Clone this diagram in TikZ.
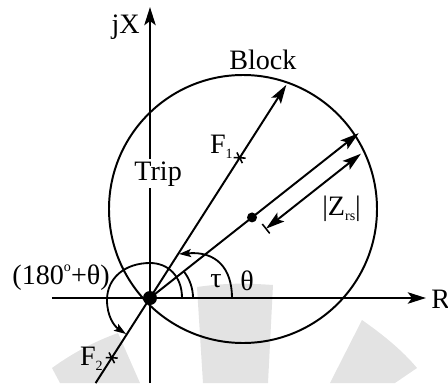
\documentclass[tikz,border=0pt]{standalone}
\usepackage{fontspec}
\setmainfont{Liberation Serif}
\usetikzlibrary{arrows.meta,calc}
\newcommand\lowidx[1]{\raisebox{-0.4ex}{\fontsize{10}{10}\selectfont #1}}
\newcommand\highidx[1]{\raisebox{0.95ex}{\fontsize{10}{10}\selectfont #1}}

\begin{document}
\begin{tikzpicture}[x=0.025cm,y=0.025cm,
    axis/.style={line width=2.1pt,-{Stealth[length=0.45cm,width=0.28cm,inset=0.1cm]}},
    ray/.style={line width=1.4pt},
    tip/.style={-{Stealth[length=0.47cm,width=0.28cm,inset=0.1cm]}},
    turn/.style={line width=1.3pt,-{Stealth[length=0.3cm,width=0.2cm,inset=0.06cm]}},
    lbl/.style={inner sep=0pt,font=\fontsize{20}{22}\selectfont},
    cross/.style={line width=1.1pt},
    wmark/.style={fill=black!11,draw=none}]
  \useasboundingbox (-150,-85) rectangle (298,298);

  % ---- filigrana -----------------------------------------------------------
  \fill[wmark] (47,11) .. controls (75,15) and (95,15) .. (123,13)
               -- (118,-85) -- (53,-85) -- cycle;
  \fill[wmark] (212,-22) .. controls (232,-36) and (252,-52) .. (267,-70)
               -- (245,-85) -- (180,-85) -- cycle;
  \fill[wmark] (-98,-70) .. controls (-76,-54) and (-54,-43) .. (-32,-35)
               -- (-10,-85) -- (-90,-85) -- cycle;

  % ---- punti ---------------------------------------------------------------
  \coordinate (O)    at (0,0);
  \coordinate (xl)   at (-98,0);
  \coordinate (xr)   at (276,0);
  \coordinate (yb)   at (0,-85);
  \coordinate (yt)   at (0,291);
  \coordinate (C)    at (93,89);
  \coordinate (F1)   at (57.4:166.4);
  \coordinate (F2)   at (237.4:71);
  \coordinate (L1a)  at (237.4:101);
  \coordinate (L1b)  at (57.4:253);
  \coordinate (L2b)  at (38.3:266);
  \coordinate (Zr)   at (38.3:130);
  \coordinate (Da)   at ($(38.3:134)+(-51.7:17.5)$);
  \coordinate (Db)   at ($(38.3:255)+(-51.7:17.5)$);

  % ---- assi e cerchio ------------------------------------------------------
  \draw[axis] (xl) -- (xr);
  \draw[axis] (yb) -- (yt);
  \draw[ray] (C) circle[radius=134];
  \node[lbl,anchor=base east] (jx) at (-10,265) {jX};
  \node[lbl,anchor=base west] (re) at (281,-10) {R};
  \node[lbl,anchor=base west] (blk) at (79,229) {Block};
  \node[lbl,anchor=base west,fill=white,inner sep=1.5pt] (trp) at (-18,118) {Trip};

  % ---- raggi ---------------------------------------------------------------
  \draw[ray,tip] (L1a) -- (L1b);
  \draw[ray,tip] (O) -- (L2b);
  \draw[ray,{Stealth[length=0.47cm,width=0.28cm,inset=0.1cm]}-{Stealth[length=0.47cm,width=0.28cm,inset=0.1cm]}] (Da) -- (Db);
  \draw[cross] ($(Da)+(-51.7:6)$) -- ($(Da)+(128.3:6)$);
  \fill (O) circle[radius=7];
  \fill (Zr) circle[radius=5];

  % ---- guasti F1, F2 -------------------------------------------------------
  \draw[cross] ($(F1)+(117.4:6)$) -- ($(F1)+(-62.6:6)$)
               ($(F1)+(177.4:6)$) -- ($(F1)+(-2.6:6)$);
  \draw[cross] ($(F2)+(117.4:6)$) -- ($(F2)+(-62.6:6)$)
               ($(F2)+(177.4:6)$) -- ($(F2)+(-2.6:6)$);
  \node[lbl,anchor=base east] (f1) at (83,145) {F\lowidx{1}};
  \node[lbl,anchor=base east] (f2) at (-47,-67) {F\lowidx{2}};

  % ---- angoli --------------------------------------------------------------
  \draw[line width=1.3pt] (43,0) arc[start angle=0,end angle=38.3,radius=43];
  \draw[turn] (82,0) .. controls (82,30) and (66,47) .. (29,44);
  \draw[turn] (32,0) .. controls (32,22) and (18,35) .. (0,35)
              .. controls (-25,35) and (-43,20) .. (-43,-2)
              .. controls (-43,-18) and (-36,-28) .. (-24,-36);
  \node[lbl,anchor=base west] (tau) at (60,11) {τ};
  \node[lbl,anchor=base west] (th)  at (90,8)  {θ};
  \node[lbl,anchor=base east] (ang) at (-40,14) {(180\highidx{o}+θ)};
  \node[lbl,anchor=base west] (zrs) at (172,83) {|Z\lowidx{rs}|};
\end{tikzpicture}
\end{document}
